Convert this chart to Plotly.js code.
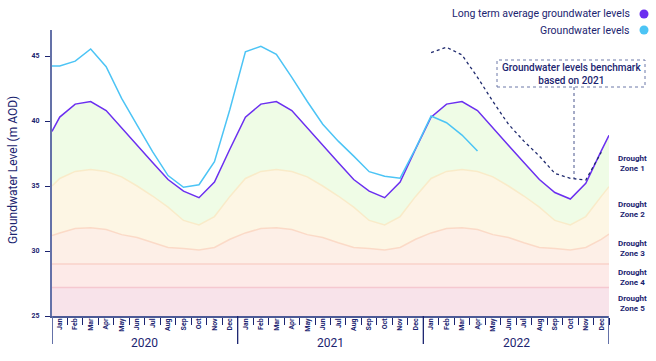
<!DOCTYPE html>
<html>
<head>
<meta charset="utf-8">
<script src="https://cdn.plot.ly/plotly-3.0.1.min.js"></script>
<style>html,body{margin:0;padding:0;background:#fff;}#chart{width:656px;height:361px;}</style>
</head>
<body>
<div id="chart"></div>
<script>
// ---- Data ----
const months = ['Jan','Feb','Mar','Apr','May','Jun','Jul','Aug','Sep','Oct','Nov','Dec'];
const years = ['2020','2021','2022'];

// Long term average groundwater level (m AOD), Jan 2020 .. Dec 2022
const longTermAvg = [
  40.3, 41.3, 41.5, 40.8, 39.45, 38.1, 36.8, 35.5, 34.6, 34.1, 35.3, 37.85,
  40.3, 41.3, 41.5, 40.8, 39.45, 38.1, 36.8, 35.5, 34.6, 34.1, 35.3, 37.85,
  40.3, 41.3, 41.5, 40.8, 39.45, 38.1, 36.8, 35.5, 34.5, 34.0, 35.2, 37.7
];
const longTermAvgEdges = [39.2, 38.9];

// Observed groundwater levels
const groundwater = [
  44.23, 44.6, 45.54, 44.18, 41.74, 39.69, 37.64, 35.8, 34.9, 35.1, 36.87, 40.9,
  45.33, 45.75, 45.13, 43.36, 41.5, 39.75, 38.45, 37.3, 36.1, 35.75, 35.6, 37.9,
  40.38, 39.87, 38.92, 37.69, null, null, null, null, null, null, null, null
];
const groundwaterStart = 44.23;

// Benchmark for 2022 based on 2021 levels
const benchmark = [
  null, null, null, null, null, null, null, null, null, null, null, null,
  null, null, null, null, null, null, null, null, null, null, null, null,
  45.26, 45.67, 45.08, 43.36, 41.5, 39.75, 38.45, 37.3, 35.97, 35.59, 35.46, 37.6
];

// Drought zone upper boundaries
const zone2Top = [
  35.58, 36.12, 36.27, 36.12, 35.7, 35.0, 34.23, 33.38, 32.35, 32.0, 32.65, 34.2,
  35.58, 36.12, 36.27, 36.12, 35.7, 35.0, 34.23, 33.38, 32.35, 32.0, 32.65, 34.2,
  35.58, 36.12, 36.27, 36.12, 35.7, 35.0, 34.23, 33.38, 32.35, 32.0, 32.65, 34.2
];
const zone2TopEdges = [35.0, 34.95];
const zone3Top = [
  31.39, 31.73, 31.78, 31.65, 31.26, 31.04, 30.63, 30.27, 30.19, 30.08, 30.27, 30.9,
  31.39, 31.73, 31.78, 31.65, 31.26, 31.04, 30.63, 30.27, 30.19, 30.08, 30.27, 30.9,
  31.39, 31.73, 31.78, 31.65, 31.26, 31.04, 30.63, 30.27, 30.19, 30.08, 30.27, 30.9
];
const zone3TopEdges = [31.18, 31.3];
const zone4Top = 29.0;
const zone5Top = 27.2;

const zoneLabels = ['Drought<br>Zone 1','Drought<br>Zone 2','Drought<br>Zone 3','Drought<br>Zone 4','Drought<br>Zone 5'];
const yTicks = [25, 30, 35, 40, 45];

// ---- Build ----
const navy = '#1b2470';
const slate = '#6471a8';
const nM = years.length * months.length;
const xIdx = [];
for (let i = 0; i < nM; i++) xIdx.push(i);
const xLo = -0.5, xHi = nM - 0.5;
const xFull = [xLo].concat(xIdx, [xHi]);
const withEdges = (arr, e) => [e[0]].concat(arr, [e[1]]);

const boundaries = [];
for (let i = 0; i <= nM; i++) boundaries.push(i - 0.5);
const monthText = [];
years.forEach(() => months.forEach(m => monthText.push(m)));

const traces = [
  {x: [xLo, xHi], y: [zone5Top, zone5Top], mode: 'lines', fill: 'tozeroy',
   fillcolor: '#f8e3ea', line: {color: '#f5c8d0', width: 1.5}, hoverinfo: 'skip'},
  {x: [xLo, xHi], y: [zone4Top, zone4Top], mode: 'lines', fill: 'tonexty',
   fillcolor: '#fdeae8', line: {color: '#f9d2ca', width: 1.5}, hoverinfo: 'skip'},
  {x: xFull, y: withEdges(zone3Top, zone3TopEdges), mode: 'lines', fill: 'tonexty',
   fillcolor: '#fdefe7', line: {color: '#fbdac7', width: 1.5}, hoverinfo: 'skip'},
  {x: xFull, y: withEdges(zone2Top, zone2TopEdges), mode: 'lines', fill: 'tonexty',
   fillcolor: '#fdf6e4', line: {color: '#f9ebc9', width: 1.5}, hoverinfo: 'skip'},
  {x: xFull, y: withEdges(longTermAvg, longTermAvgEdges), mode: 'lines', fill: 'tonexty',
   fillcolor: '#effce6', line: {color: '#6b2ff0', width: 1.5}, name: 'Long term average groundwater levels'},
  {x: xFull, y: [groundwaterStart].concat(groundwater, [null]), mode: 'lines',
   line: {color: '#4cc4f5', width: 1.5}, name: 'Groundwater levels'},
  {x: xIdx, y: benchmark, mode: 'lines', xaxis: 'x2',
   line: {color: '#1f2a6e', width: 1.3, dash: 'dot'}, name: 'Benchmark'}
];

const W = 557, H = 286; // plot area in px
const px = v => (v - 52) / W;     // page x -> paper
const py = v => (316 - v) / H;    // page y -> paper

const shapes = [];
// year dividers below axis
boundaries.forEach((b, i) => {
  if (i % months.length === 0) {
    const edge = (i === 0 || i === nM);
    shapes.push({type: 'line', xref: 'x', yref: 'paper', x0: b, x1: b, y0: 0, y1: py(344),
      line: {color: edge ? slate : navy, width: edge ? 2 : 1.3}});
  }
});
// callout box + pointer
shapes.push({type: 'rect', xref: 'paper', yref: 'paper', x0: px(497), x1: px(645), y0: py(87), y1: py(60),
  line: {color: '#6c78a8', width: 1, dash: 'dot'}});
shapes.push({type: 'line', xref: 'paper', yref: 'paper', x0: px(574), x1: px(574), y0: py(87), y1: py(178),
  line: {color: '#4a568e', width: 1, dash: 'dot'}});
// legend dots
[['#6b2ff0', 14], ['#4cc4f5', 30]].forEach(([c, yy]) => {
  shapes.push({type: 'circle', xref: 'paper', yref: 'paper', x0: px(639.5), x1: px(648.5), y0: py(yy + 4.5), y1: py(yy - 4.5),
    fillcolor: c, line: {width: 0}});
});

const annotations = [];
years.forEach((yr, i) => {
  annotations.push({text: yr, xref: 'x', yref: 'paper', x: i * months.length + (months.length - 1) / 2, y: py(343),
    showarrow: false, xanchor: 'center', yanchor: 'middle', font: {size: 12, color: navy, family: 'Roboto'}});
});
annotations.push({text: 'Groundwater Level (m AOD)', xref: 'paper', yref: 'paper', x: px(13), y: py(170),
  textangle: -90, showarrow: false, xanchor: 'center', yanchor: 'middle', font: {size: 12, color: navy, family: 'Roboto'}});
annotations.push({text: 'Long term average groundwater levels', xref: 'paper', yref: 'paper', x: px(632), y: py(14),
  showarrow: false, xanchor: 'right', yanchor: 'middle', font: {size: 10.5, color: navy, family: 'Roboto'}});
annotations.push({text: 'Groundwater levels', xref: 'paper', yref: 'paper', x: px(632), y: py(30),
  showarrow: false, xanchor: 'right', yanchor: 'middle', font: {size: 10.5, color: navy, family: 'Roboto'}});
annotations.push({text: 'Groundwater levels benchmark<br>based on 2021', xref: 'paper', yref: 'paper', x: px(571), y: py(74),
  showarrow: false, xanchor: 'center', yanchor: 'middle', align: 'center',
  font: {size: 10, color: navy, family: 'Roboto', weight: 500}});
const zoneY = [163.5, 209.5, 248, 277, 303.5];
zoneLabels.forEach((t, i) => {
  annotations.push({text: t, xref: 'paper', yref: 'paper', x: px(632), y: py(zoneY[i]),
    showarrow: false, xanchor: 'center', yanchor: 'middle', align: 'center',
    font: {size: 8, color: navy, family: 'Roboto', weight: 'bold'}});
});

const layout = {
  width: 656, height: 361,
  margin: {l: 52, r: 47, t: 30, b: 45, pad: 0},
  paper_bgcolor: '#ffffff', plot_bgcolor: '#ffffff',
  showlegend: false,
  xaxis: {range: [xLo, xHi], tickmode: 'array', tickvals: boundaries, ticktext: boundaries.map(() => ''),
    ticks: 'outside', ticklen: 7, tickwidth: 1, tickcolor: navy,
    showline: true, linecolor: '#4d5a96', linewidth: 2, showgrid: false, zeroline: false, fixedrange: true},
  xaxis2: {overlaying: 'x', anchor: 'y', side: 'bottom', range: [xLo, xHi], tickmode: 'array',
    tickvals: xIdx, ticktext: monthText, tickangle: -90, ticks: '', showline: false, showgrid: false, zeroline: false,
    tickfont: {size: 7, color: navy, family: 'Roboto', weight: 'bold'}, fixedrange: true},
  yaxis: {range: [25, 47], tickmode: 'array', tickvals: yTicks, ticks: 'outside', ticklen: 5, tickwidth: 1,
    tickcolor: navy, showline: true, linecolor: slate, linewidth: 2, showgrid: false, zeroline: false,
    ticklabelstandoff: 4,
    tickfont: {size: 7, color: navy, family: 'Roboto', weight: 'bold'}, fixedrange: true},
  shapes: shapes,
  annotations: annotations,
  font: {family: 'Roboto', color: navy}
};

Plotly.newPlot('chart', traces, layout, {displayModeBar: false, staticPlot: true});
</script>
</body>
</html>
